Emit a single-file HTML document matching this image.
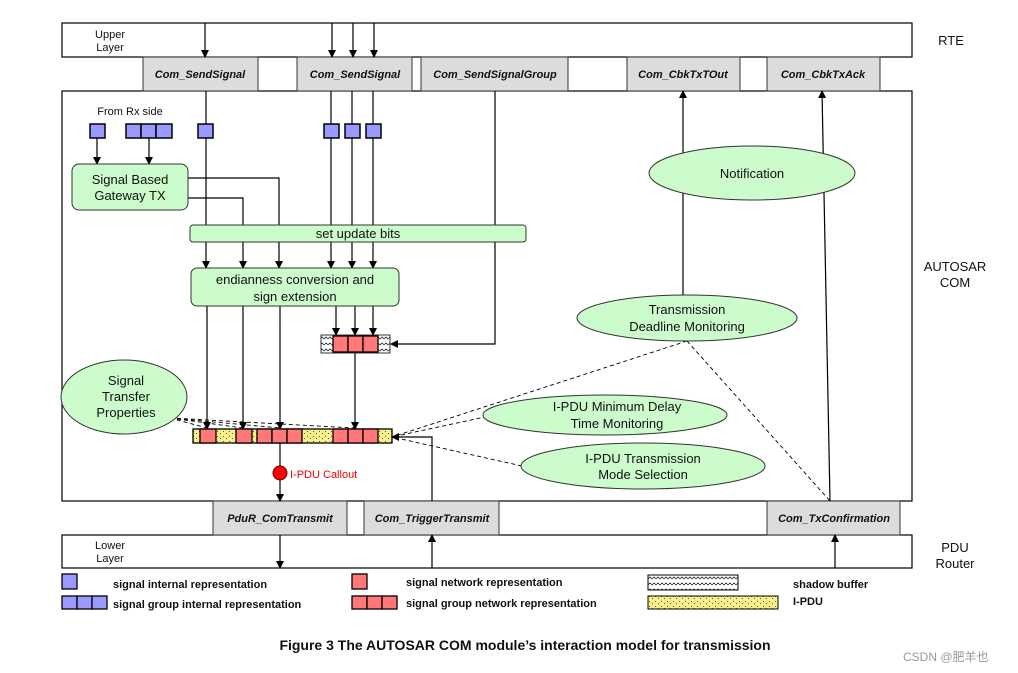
<!DOCTYPE html>
<html><head><meta charset="utf-8"><style>
body{margin:0;background:#fff}
svg{display:block}
text{font-family:"Liberation Sans",Arial,sans-serif}
</style></head><body>
<svg width="1018" height="673" viewBox="0 0 1018 673" xmlns="http://www.w3.org/2000/svg">
<defs>
<marker id="a" markerWidth="8" markerHeight="8" refX="7" refY="4" orient="auto" markerUnits="userSpaceOnUse"><path d="M0,0 L8,4 L0,8 z" fill="#000"/></marker>
<pattern id="dots" width="6" height="5" patternUnits="userSpaceOnUse"><rect width="6" height="5" fill="#f7f08a"/><rect x="1" y="1" width="1" height="1" fill="#555"/><rect x="4" y="3" width="1" height="1" fill="#555"/></pattern>
<pattern id="wave" width="8" height="6" patternUnits="userSpaceOnUse"><rect width="8" height="6" fill="#fff"/><path d="M0,3 L2,1 L4,3 L6,1 L8,3" stroke="#333" fill="none" stroke-width="0.8"/></pattern>
</defs>
<g stroke="#000" stroke-width="1.2" fill="none">
<rect x="62" y="23" width="850" height="34" fill="#fff"/>
<rect x="62" y="91" width="850" height="410" fill="#fff"/>
<rect x="62" y="535" width="850" height="33" fill="#fff"/>
</g>
<g fill="#dcdcdc" stroke="#333" stroke-width="1">
<rect x="143" y="57" width="115" height="34"/>
<rect x="297" y="57" width="115" height="34"/>
<rect x="421" y="57" width="147" height="34"/>
<rect x="627" y="57" width="113" height="34"/>
<rect x="767" y="57" width="113" height="34"/>
<rect x="213" y="501" width="134" height="34"/>
<rect x="364" y="501" width="135" height="34"/>
<rect x="767" y="501" width="133" height="34"/>
</g>
<g font-size="11" font-weight="bold" font-style="italic" text-anchor="middle" fill="#111">
<text x="200" y="78">Com_SendSignal</text>
<text x="355" y="78">Com_SendSignal</text>
<text x="495" y="78">Com_SendSignalGroup</text>
<text x="683" y="78">Com_CbkTxTOut</text>
<text x="823" y="78">Com_CbkTxAck</text>
<text x="280" y="522">PduR_ComTransmit</text>
<text x="432" y="522">Com_TriggerTransmit</text>
<text x="834" y="522">Com_TxConfirmation</text>
</g>
<g font-size="11" fill="#111" text-anchor="middle">
<text x="110" y="38">Upper</text><text x="110" y="51">Layer</text>
<text x="110" y="549">Lower</text><text x="110" y="562">Layer</text>
<text x="130" y="115">From Rx side</text>
</g>
<g font-size="13" fill="#111" text-anchor="middle">
<text x="951" y="45">RTE</text>
<text x="955" y="271">AUTOSAR</text><text x="955" y="287">COM</text>
<text x="955" y="552">PDU</text><text x="955" y="568">Router</text>
</g>
<!-- connectors -->
<g stroke="#000" stroke-width="1.2" fill="none">
<line x1="205" y1="23" x2="205" y2="57" marker-end="url(#a)"/>
<line x1="332" y1="23" x2="332" y2="57" marker-end="url(#a)"/>
<line x1="353" y1="23" x2="353" y2="57" marker-end="url(#a)"/>
<line x1="374" y1="23" x2="374" y2="57" marker-end="url(#a)"/>
<line x1="206" y1="91" x2="206" y2="268" marker-end="url(#a)"/>
<line x1="331" y1="91" x2="331" y2="268" marker-end="url(#a)"/>
<line x1="352" y1="91" x2="352" y2="268" marker-end="url(#a)"/>
<line x1="373" y1="91" x2="373" y2="268" marker-end="url(#a)"/>
<polyline points="188,178 279,178 279,268" marker-end="url(#a)"/>
<polyline points="188,198 243,198 243,268" marker-end="url(#a)"/>
<polyline points="495,91 495,344 391,344" marker-end="url(#a)"/>
<line x1="97" y1="138" x2="97" y2="164" marker-end="url(#a)"/>
<line x1="149" y1="138" x2="149" y2="164" marker-end="url(#a)"/>
<line x1="207" y1="306" x2="207" y2="429" marker-end="url(#a)"/>
<line x1="243" y1="306" x2="243" y2="429" marker-end="url(#a)"/>
<line x1="280" y1="306" x2="280" y2="429" marker-end="url(#a)"/>
<line x1="336" y1="306" x2="336" y2="335" marker-end="url(#a)"/>
<line x1="355" y1="306" x2="355" y2="335" marker-end="url(#a)"/>
<line x1="373" y1="306" x2="373" y2="335" marker-end="url(#a)"/>
<line x1="355" y1="353" x2="355" y2="429" marker-end="url(#a)"/>
<line x1="280" y1="443" x2="280" y2="501" marker-end="url(#a)"/>
<polyline points="432,501 432,437 392,437" marker-end="url(#a)"/>
<line x1="280" y1="535" x2="280" y2="568" marker-end="url(#a)"/>
<line x1="432" y1="568" x2="432" y2="535" marker-end="url(#a)"/>
<line x1="835" y1="568" x2="835" y2="535" marker-end="url(#a)"/>
<line x1="683" y1="295" x2="683" y2="91" marker-end="url(#a)"/>
<line x1="830" y1="501" x2="822" y2="91" marker-end="url(#a)"/>
</g>
<g stroke="#000" stroke-width="0.9" fill="none" stroke-dasharray="4,3">
<line x1="687" y1="341" x2="392" y2="437"/>
<line x1="687" y1="341" x2="830" y2="501"/>
<line x1="494" y1="415" x2="392" y2="437"/>
<line x1="522" y1="466" x2="392" y2="437"/>
<line x1="170" y1="418" x2="207" y2="428"/>
<line x1="170" y1="418" x2="243" y2="428"/>
<line x1="170" y1="418" x2="280" y2="428"/>
<line x1="170" y1="418" x2="355" y2="428"/>
</g>
<!-- boxes -->
<g fill="#ccfccc" stroke="#333" stroke-width="1">
<rect x="72" y="164" width="116" height="46" rx="7"/>
<rect x="190" y="225" width="336" height="17" rx="3"/>
<rect x="191" y="268" width="208" height="38" rx="6"/>
<ellipse cx="124" cy="397" rx="63" ry="37"/>
<ellipse cx="752" cy="173" rx="103" ry="27"/>
<ellipse cx="687" cy="318" rx="110" ry="23"/>
<ellipse cx="605" cy="415" rx="122" ry="20"/>
<ellipse cx="643" cy="466" rx="122" ry="23"/>
</g>
<g font-size="13" fill="#111" text-anchor="middle">
<text x="130" y="184">Signal Based</text><text x="130" y="200">Gateway TX</text>
<text x="358" y="238">set update bits</text>
<text x="295" y="284">endianness conversion and</text><text x="295" y="301">sign extension</text>
<text x="126" y="385">Signal</text><text x="126" y="401">Transfer</text><text x="126" y="417">Properties</text>
<text x="752" y="178">Notification</text>
<text x="687" y="314">Transmission</text><text x="687" y="331">Deadline Monitoring</text>
<text x="617" y="411">I-PDU Minimum Delay</text><text x="617" y="428">Time Monitoring</text>
<text x="643" y="463">I-PDU Transmission</text><text x="643" y="479">Mode Selection</text>
</g>
<!-- small squares -->
<g fill="#9999ff" stroke="#000" stroke-width="1.5">
<rect x="90" y="124" width="15" height="14"/>
<rect x="126" y="124" width="15" height="14"/><rect x="141" y="124" width="15" height="14"/><rect x="156" y="124" width="16" height="14"/>
<rect x="198" y="124" width="15" height="14"/>
<rect x="324" y="124" width="15" height="14"/>
<rect x="345" y="124" width="15" height="14"/>
<rect x="366" y="124" width="15" height="14"/>
</g>
<!-- shadow buffer -->
<rect x="321" y="335" width="69" height="18" fill="url(#wave)" stroke="#333"/>
<g fill="#f77" stroke="#000" stroke-width="1.3">
<rect x="333" y="336" width="15" height="16"/><rect x="348" y="336" width="15" height="16"/><rect x="363" y="336" width="15" height="16"/>
</g>
<!-- I-PDU bar -->
<rect x="193" y="429" width="199" height="14" fill="url(#dots)" stroke="#000" stroke-width="1.3"/>
<g fill="#f77" stroke="#000" stroke-width="1.3">
<rect x="200" y="429" width="16" height="14"/>
<rect x="236" y="429" width="16" height="14"/>
<rect x="257" y="429" width="15" height="14"/><rect x="272" y="429" width="15" height="14"/><rect x="287" y="429" width="15" height="14"/>
<rect x="333" y="429" width="15" height="14"/><rect x="348" y="429" width="15" height="14"/><rect x="363" y="429" width="15" height="14"/>
</g>
<circle cx="280" cy="473" r="7" fill="#f00" stroke="#600"/>
<text x="290" y="478" font-size="11" fill="#e00">I-PDU Callout</text>
<!-- legend -->
<g stroke="#000" stroke-width="1.3">
<rect x="62" y="574" width="15" height="15" fill="#9999ff"/>
<rect x="62" y="596" width="15" height="13" fill="#9999ff"/><rect x="77" y="596" width="15" height="13" fill="#9999ff"/><rect x="92" y="596" width="15" height="13" fill="#9999ff"/>
<rect x="352" y="574" width="15" height="15" fill="#f77"/>
<rect x="352" y="596" width="15" height="13" fill="#f77"/><rect x="367" y="596" width="15" height="13" fill="#f77"/><rect x="382" y="596" width="15" height="13" fill="#f77"/>
<rect x="648" y="575" width="90" height="15" fill="url(#wave)" stroke-width="1"/>
<rect x="648" y="596" width="130" height="13" fill="url(#dots)" stroke-width="1"/>
</g>
<g font-size="11" font-weight="bold" fill="#111">
<text x="113" y="588">signal internal representation</text>
<text x="113" y="608">signal group internal representation</text>
<text x="406" y="586">signal network representation</text>
<text x="406" y="607">signal group network representation</text>
<text x="793" y="588">shadow buffer</text>
<text x="793" y="605">I-PDU</text>
</g>
<text x="525" y="650" font-size="14" font-weight="bold" text-anchor="middle" fill="#111">Figure 3 The AUTOSAR COM module’s interaction model for transmission</text>
<text x="903" y="661" font-size="12" fill="#999" font-family="Liberation Sans, Noto Sans CJK SC, sans-serif">CSDN @肥羊也</text>
</svg>
</body></html>
